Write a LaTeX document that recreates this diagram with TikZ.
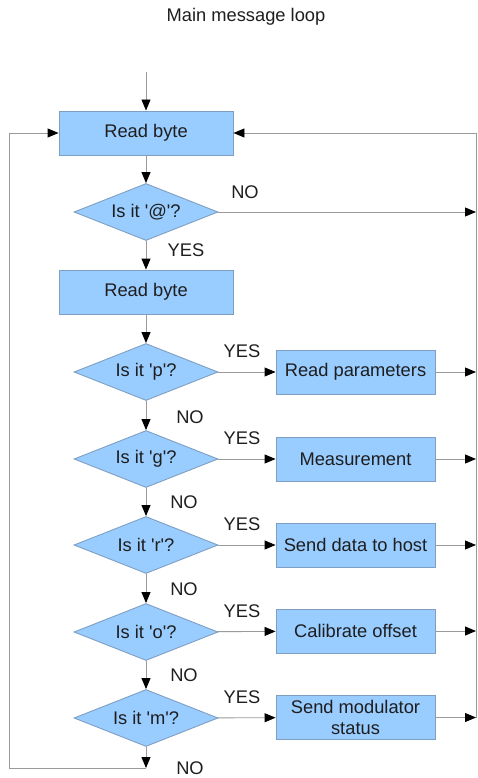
\documentclass[tikz,border=0pt]{standalone}
\usepackage{fontspec}
\setmainfont{Liberation Sans}
\usetikzlibrary{shapes.geometric,arrows.meta}
\definecolor{boxfill}{HTML}{99CCFF}
\definecolor{boxline}{HTML}{7F9FC2}
\definecolor{wire}{HTML}{9A9A9A}
\definecolor{ink}{HTML}{1E1E1E}
\newcommand{\q}{\textquotesingle}
\begin{document}
\begin{tikzpicture}[x=1pt,y=-1pt,
  font=\fontsize{18.3}{21}\selectfont, text=ink,
  stepbox/.style={rectangle, draw=boxline, fill=boxfill, line width=0.9pt,
    minimum width=174pt, minimum height=44pt, inner sep=0pt, align=center},
  actbox/.style={rectangle, draw=boxline, fill=boxfill, line width=0.9pt,
    minimum width=159pt, minimum height=44pt, inner sep=0pt, align=center},
  test/.style={diamond, aspect=2.53, draw=boxline, fill=boxfill, line width=0.9pt,
    minimum width=144pt, minimum height=57pt, inner sep=0pt},
  wireline/.style={draw=wire, line width=0.9pt},
  flow/.style={wireline, -{Triangle[length=11pt,width=9pt,color=black]}},
  lbl/.style={inner sep=0pt}]
\useasboundingbox (0,0) rectangle (478,778);

\node[lbl] (title) at (246,17) {Main message loop};

% main column
\coordinate (entry) at (146,72);
\node[stepbox] (rb1) at (146,133) {Read byte};
\node[test]    (dat) at (146,212) {Is it \q @\q ?};
\node[stepbox] (rb2) at (146,292) {Read byte};
\node[test]    (dp)  at (146,372) {Is it \q p\q ?};
\node[test]    (dg)  at (146,459) {Is it \q g\q ?};
\node[test]    (dr)  at (146,545) {Is it \q r\q ?};
\node[test]    (do)  at (146,632) {Is it \q o\q ?};
\node[test]    (dm)  at (146,718) {Is it \q m\q ?};

% action column
\node[actbox] (ap) at (355.5,372) {Read parameters};
\node[actbox] (ag) at (355.5,459) {Measurement};
\node[actbox] (ar) at (355.5,545) {Send data to host};
\node[actbox] (ao) at (355.5,631) {Calibrate offset};
\node[actbox] (am) at (355.5,717.5) {Send modulator\\status};

% return rails
\coordinate (rtop) at (476,133);
\coordinate (rbot) at (476,718);
\coordinate (lbot) at (9,768);
\coordinate (ltop) at (9,133);
\coordinate (bend) at (146,768);
\coordinate (rat)  at (476,212);
\coordinate (rp)   at (476,372);
\coordinate (rg)   at (476,459);
\coordinate (rr)   at (476,545);
\coordinate (ro)   at (476,631);
\coordinate (rm)   at (476,717.5);

% vertical flow
\draw[flow] (entry) -- (rb1);
\draw[flow] (rb1) -- (dat);
\draw[flow] (dat) -- (rb2);
\draw[flow] (rb2) -- (dp);
\draw[flow] (dp) -- (dg);
\draw[flow] (dg) -- (dr);
\draw[flow] (dr) -- (do);
\draw[flow] (do) -- (dm);
\draw[flow] (dm) -- (bend);

% yes branches
\draw[flow] (dp) -- (ap);
\draw[flow] (dg) -- (ag);
\draw[flow] (dr) -- (ar);
\draw[flow] (do) -- (ao);
\draw[flow] (dm) -- (am);

% into the right rail
\draw[flow] (dat) -- (rat);
\draw[flow] (ap) -- (rp);
\draw[flow] (ag) -- (rg);
\draw[flow] (ar) -- (rr);
\draw[flow] (ao) -- (ro);
\draw[flow] (am) -- (rm);

% loops back to the first read
\draw[flow] (rbot) -- (rtop) -- (rb1);
\draw[flow] (bend) -- (lbot) -- (ltop) -- (rb1);

% branch labels
\node[lbl] at (245,192) {NO};
\node[lbl] at (186,250) {YES};
\node[lbl] at (242,351) {YES};
\node[lbl] at (190,417) {NO};
\node[lbl] at (242,438) {YES};
\node[lbl] at (184,502) {NO};
\node[lbl] at (242,524) {YES};
\node[lbl] at (184,589) {NO};
\node[lbl] at (242,611) {YES};
\node[lbl] at (184,675) {NO};
\node[lbl] at (242,697) {YES};
\node[lbl] at (190,768) {NO};
\end{tikzpicture}
\end{document}
